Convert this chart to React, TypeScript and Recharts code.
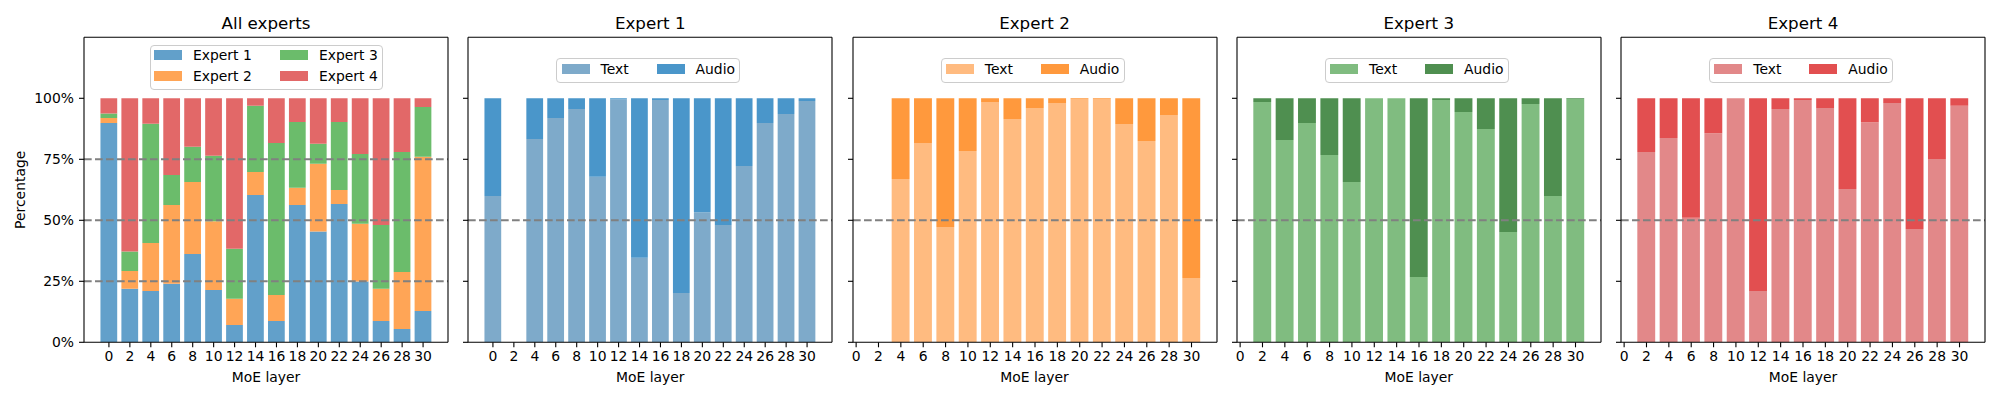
import React from 'react';
import { BarChart, Bar, XAxis, YAxis, ReferenceLine, Legend } from 'recharts';

const layers = [0, 2, 4, 6, 8, 10, 12, 14, 16, 18, 20, 22, 24, 26, 28, 30];
const yTicks = [0, 0.25, 0.5, 0.75, 1];

// share of routed tokens per expert (All experts panel)
const allExpert1 = [0.899, 0.219, 0.21, 0.24, 0.362, 0.214, 0.071, 0.604, 0.087, 0.563, 0.454, 0.567, 0.249, 0.087, 0.055, 0.128];
const allExpert2 = [0.02, 0.073, 0.197, 0.323, 0.295, 0.282, 0.107, 0.094, 0.107, 0.07, 0.278, 0.057, 0.237, 0.132, 0.233, 0.632];
const allExpert3 = [0.019, 0.08, 0.489, 0.123, 0.144, 0.269, 0.205, 0.271, 0.623, 0.27, 0.082, 0.279, 0.286, 0.262, 0.492, 0.204];
const allExpert4 = [0.062, 0.628, 0.104, 0.314, 0.199, 0.235, 0.617, 0.031, 0.183, 0.097, 0.186, 0.097, 0.228, 0.519, 0.22, 0.036];

// text share of the tokens each expert gets (the rest is audio)
const expert1Text = [0.6, null, 0.833, 0.919, 0.956, 0.678, 0.996, 0.347, 0.993, 0.202, 0.533, 0.481, 0.723, 0.899, 0.936, 0.989];
const expert2Text = [null, null, 0.669, 0.817, 0.473, 0.784, 0.985, 0.915, 0.96, 0.981, 0.997, 0.997, 0.895, 0.825, 0.932, 0.264];
const expert3Text = [null, 0.985, 0.829, 0.899, 0.768, 0.657, 1, 1, 0.268, 0.993, 0.944, 0.874, 0.452, 0.977, 0.6, 0.997];
const expert4Text = [null, 0.78, 0.837, 0.51, 0.857, 1, 0.21, 0.956, 0.993, 0.96, 0.628, 0.902, 0.981, 0.464, 0.751, 0.969];

const FONT = 'DejaVu Sans';
const PANEL_W = 364;
const PLOT_TOP = 37.3;
const PLOT_BOTTOM = 342.3;
const AXIS_W = 70;
const CHART_W = AXIS_W + PANEL_W + 20;
const FS = 13.9;

type Series = { key: string; name: string; color: string; values: (number | null)[] };

const audioOf = (text: (number | null)[]) => text.map(v => (v == null ? null : 1 - v));

const textAudio = (text: (number | null)[], textColor: string, audioColor: string): Series[] => [
  { key: 'text', name: 'Text', color: textColor, values: text },
  { key: 'audio', name: 'Audio', color: audioColor, values: audioOf(text) },
];

const panels = [
  {
    title: 'All experts',
    left: 84,
    domain: [-2.38, 32.38],
    yLabels: true,
    refs: [0.25, 0.5, 0.75],
    cols: 2,
    series: [
      { key: 'e1', name: 'Expert 1', color: '#62a0ca', values: allExpert1 },
      { key: 'e2', name: 'Expert 2', color: '#ffa556', values: allExpert2 },
      { key: 'e3', name: 'Expert 3', color: '#6bbc6b', values: allExpert3 },
      { key: 'e4', name: 'Expert 4', color: '#e26868', values: allExpert4 },
    ] as Series[],
  },
  { title: 'Expert 1', left: 468.25, domain: [-2.38, 32.38], yLabels: false, refs: [0.5], cols: 2, series: textAudio(expert1Text, '#7eaaca', '#4a96ca') },
  { title: 'Expert 2', left: 852.5, domain: [-0.28, 32.28], yLabels: false, refs: [0.5], cols: 2, series: textAudio(expert2Text, '#ffbb80', '#ff993d') },
  { title: 'Expert 3', left: 1236.75, domain: [-0.28, 32.28], yLabels: false, refs: [0.5], cols: 2, series: textAudio(expert3Text, '#80bc80', '#4f8f50') },
  { title: 'Expert 4', left: 1621, domain: [-0.28, 32.28], yLabels: false, refs: [0.5], cols: 2, series: textAudio(expert4Text, '#e28889', '#e24f50') },
];

function LegendBox({ series, twoRows }: { series: Series[]; twoRows: boolean }) {
  const width = twoRows ? 233 : 184;
  const height = twoRows ? 45 : 25;
  const colX = twoRows ? [4, 130] : [5.3, 100.3];
  const rowY = twoRows ? [10.7, 31.7] : [11.2];
  return (
    <div
      style={{
        position: 'relative',
        width,
        height,
        boxSizing: 'border-box',
        border: '1px solid #cccccc',
        borderRadius: 4,
        background: 'rgba(255,255,255,0.8)',
        fontFamily: FONT,
        fontSize: FS,
        color: 'black',
      }}
    >
      {series.map((s, i) => {
        const col = twoRows ? Math.floor(i / 2) : i;
        const row = twoRows ? i % 2 : 0;
        const cy = rowY[row];
        return (
          <React.Fragment key={s.key}>
            <div style={{ position: 'absolute', left: colX[col] - 1, top: cy - 6, width: 28, height: 10, background: s.color }} />
            <div style={{ position: 'absolute', left: colX[col] + 38, top: cy - 8, lineHeight: '14px', whiteSpace: 'nowrap' }}>{s.name}</div>
          </React.Fragment>
        );
      })}
    </div>
  );
}

function Panel({ panel }: { panel: (typeof panels)[number] }) {
  const rows = layers.map((layer, i) => {
    const row: Record<string, number | null> = { layer };
    panel.series.forEach(s => {
      row[s.key] = s.values[i];
    });
    return row;
  });
  const pxPerUnit = PANEL_W / (panel.domain[1] - panel.domain[0]);
  const twoRows = panel.series.length > 2;
  const legendLeft = AXIS_W + (twoRows ? 66 : 88);
  const legendTop = twoRows ? 44.7 : 58.3;

  return (
    <div style={{ position: 'absolute', left: panel.left - AXIS_W, top: 0 }}>
      <BarChart
        width={CHART_W}
        height={400}
        data={rows}
        margin={{ top: PLOT_TOP, right: 20, bottom: 0, left: 0 }}
      >
        <XAxis
          dataKey="layer"
          type="number"
          domain={panel.domain}
          allowDataOverflow
          ticks={layers}
          interval={0}
          height={400 - PLOT_BOTTOM}
          tickSize={5}
          tickMargin={4}
          stroke="black"
          strokeWidth={1.1}
          tick={{ fontSize: FS, fill: 'black', fontFamily: FONT }}
        />
        <YAxis
          type="number"
          domain={[0, 1.25]}
          allowDataOverflow
          ticks={yTicks}
          width={AXIS_W}
          tickSize={5}
          tickMargin={5}
          stroke="black"
          strokeWidth={1.1}
          tickFormatter={v => (panel.yLabels ? `${Math.round(v * 100)}%` : '')}
          tick={{ fontSize: FS, fill: 'black', fontFamily: FONT }}
        />
        {panel.series.map(s => (
          <Bar
            key={s.key}
            dataKey={s.key}
            name={s.name}
            stackId="share"
            fill={s.color}
            barSize={1.6 * pxPerUnit}
            isAnimationActive={false}
          />
        ))}
        {panel.refs.map(r => (
          <ReferenceLine key={r} y={r} stroke="#808080" strokeWidth={2} strokeDasharray="7.7 3.3" />
        ))}
        <ReferenceLine y={1.25} stroke="black" strokeWidth={1.1} />
        <ReferenceLine x={panel.domain[1]} stroke="black" strokeWidth={1.1} />
        <Legend
          layout="vertical"
          align="center"
          verticalAlign="middle"
          wrapperStyle={{ left: legendLeft, top: legendTop, width: 'auto', height: 'auto' }}
          content={() => <LegendBox series={panel.series} twoRows={twoRows} />}
        />
      </BarChart>
    </div>
  );
}

export default function App() {
  return (
    <div style={{ position: 'fixed', left: 0, top: 0, width: 2000, height: 400, background: 'white', overflow: 'hidden' }}>
      {panels.map(p => (
        <Panel key={p.title} panel={p} />
      ))}
      <svg width={2000} height={400} style={{ position: 'absolute', left: 0, top: 0, pointerEvents: 'none' }}>
        {panels.map(p => (
          <React.Fragment key={p.title}>
            <text x={p.left + PANEL_W / 2} y={29} textAnchor="middle" fontFamily={FONT} fontSize={16.7} fill="black">
              {p.title}
            </text>
            <text x={p.left + PANEL_W / 2} y={382} textAnchor="middle" fontFamily={FONT} fontSize={FS} fill="black">
              MoE layer
            </text>
          </React.Fragment>
        ))}
        <text
          x={25}
          y={(PLOT_TOP + PLOT_BOTTOM) / 2}
          transform={`rotate(-90 25 ${(PLOT_TOP + PLOT_BOTTOM) / 2})`}
          textAnchor="middle"
          fontFamily={FONT}
          fontSize={FS}
          fill="black"
        >
          Percentage
        </text>
      </svg>
    </div>
  );
}
